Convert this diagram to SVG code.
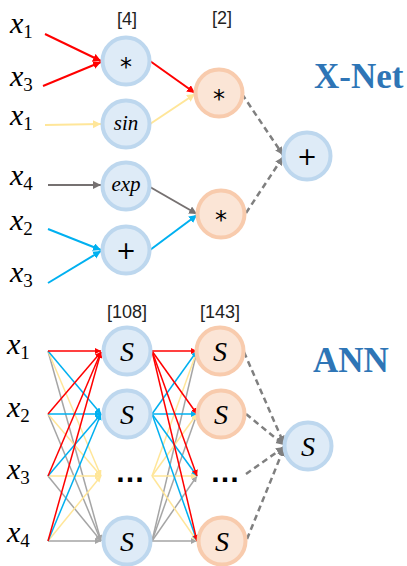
<svg xmlns="http://www.w3.org/2000/svg" width="407" height="566" viewBox="0 0 407 566">
<style>
.nb{fill:#DEEBF7;stroke:#BDD7EE;stroke-width:4}
.no{fill:#FBE5D6;stroke:#F8CBAD;stroke-width:4}
.var{font-family:"Liberation Serif",serif;font-style:italic;font-size:30px;fill:#000}
.sub{font-style:normal;font-size:19px}
.op{font-family:"DejaVu Sans","Liberation Sans",sans-serif;font-size:24px;fill:#000;text-anchor:middle}
.fn{font-family:"Liberation Serif",serif;font-style:italic;font-size:21px;fill:#000;text-anchor:middle}
.s{font-family:"Liberation Serif",serif;font-style:italic;font-size:28px;fill:#000;text-anchor:middle}
.br{font-family:"Liberation Sans",sans-serif;font-size:18px;fill:#222;text-anchor:middle}
.title{font-family:"Liberation Serif",serif;font-weight:bold;font-size:35px;fill:#2E75B6}
.dots{font-family:"Liberation Sans",sans-serif;font-weight:bold;font-size:30px;fill:#000;text-anchor:middle}
.t{fill:none;stroke-width:2}
.a{fill:none;stroke-width:1.5}
.d{fill:none;stroke:#7F7F7F;stroke-width:2.5;stroke-dasharray:6 4}
</style>
<defs>
<marker id="mr" markerUnits="userSpaceOnUse" markerWidth="9" markerHeight="9" refX="8" refY="4" orient="auto"><path d="M0,0 L8,4 L0,8 z" fill="#FF0000"/></marker>
<marker id="my" markerUnits="userSpaceOnUse" markerWidth="9" markerHeight="9" refX="8" refY="4" orient="auto"><path d="M0,0 L8,4 L0,8 z" fill="#FFE699"/></marker>
<marker id="mg" markerUnits="userSpaceOnUse" markerWidth="9" markerHeight="9" refX="8" refY="4" orient="auto"><path d="M0,0 L8,4 L0,8 z" fill="#767171"/></marker>
<marker id="mb" markerUnits="userSpaceOnUse" markerWidth="9" markerHeight="9" refX="8" refY="4" orient="auto"><path d="M0,0 L8,4 L0,8 z" fill="#00B0F0"/></marker>
<marker id="md" markerUnits="userSpaceOnUse" markerWidth="9" markerHeight="9" refX="8" refY="4" orient="auto"><path d="M0,0 L8,4 L0,8 z" fill="#7F7F7F"/></marker>
<marker id="sr" markerUnits="userSpaceOnUse" markerWidth="7" markerHeight="7" refX="6" refY="3" orient="auto"><path d="M0,0 L6,3 L0,6 z" fill="#FF0000"/></marker>
<marker id="sy" markerUnits="userSpaceOnUse" markerWidth="7" markerHeight="7" refX="6" refY="3" orient="auto"><path d="M0,0 L6,3 L0,6 z" fill="#FFE699"/></marker>
<marker id="sg" markerUnits="userSpaceOnUse" markerWidth="7" markerHeight="7" refX="6" refY="3" orient="auto"><path d="M0,0 L6,3 L0,6 z" fill="#A5A5A5"/></marker>
<marker id="sb" markerUnits="userSpaceOnUse" markerWidth="7" markerHeight="7" refX="6" refY="3" orient="auto"><path d="M0,0 L6,3 L0,6 z" fill="#00B0F0"/></marker>
</defs>

<g id="labels">
<text class="br" x="127" y="25">[4]</text>
<text class="br" x="222" y="24">[2]</text>
<text class="br" x="127" y="318">[108]</text>
<text class="br" x="220" y="318">[143]</text>
<text class="title" x="314" y="88">X-Net</text>
<text class="title" x="313" y="372">ANN</text>
</g>

<g id="inputs">
<text class="var" x="10" y="33">x<tspan class="sub" dy="5">1</tspan></text>
<text class="var" x="10" y="86">x<tspan class="sub" dy="5">3</tspan></text>
<text class="var" x="10" y="125">x<tspan class="sub" dy="5">1</tspan></text>
<text class="var" x="10" y="185">x<tspan class="sub" dy="5">4</tspan></text>
<text class="var" x="10" y="230">x<tspan class="sub" dy="5">2</tspan></text>
<text class="var" x="10" y="282">x<tspan class="sub" dy="5">3</tspan></text>
<text class="var" x="7" y="354">x<tspan class="sub" dy="5">1</tspan></text>
<text class="var" x="7" y="417">x<tspan class="sub" dy="5">2</tspan></text>
<text class="var" x="7" y="479">x<tspan class="sub" dy="5">3</tspan></text>
<text class="var" x="7" y="542">x<tspan class="sub" dy="5">4</tspan></text>
</g>

<g id="connectors">
<line class="t" stroke="#FF0000" x1="45" y1="34" x2="101" y2="61" marker-end="url(#mr)"/>
<line class="t" stroke="#FF0000" x1="43" y1="86" x2="101" y2="62" marker-end="url(#mr)"/>
<line class="t" stroke="#FFE699" x1="45" y1="125" x2="101" y2="124" marker-end="url(#my)"/>
<line class="t" stroke="#767171" x1="48" y1="185" x2="101" y2="185" marker-end="url(#mg)"/>
<line class="t" stroke="#00B0F0" x1="48" y1="229" x2="101" y2="250" marker-end="url(#mb)"/>
<line class="t" stroke="#00B0F0" x1="48" y1="283" x2="101" y2="251" marker-end="url(#mb)"/>
<line class="t" stroke="#FF0000" x1="150" y1="61" x2="195" y2="93" marker-end="url(#mr)"/>
<line class="t" stroke="#FFE699" x1="150" y1="124" x2="195" y2="94" marker-end="url(#my)"/>
<line class="t" stroke="#767171" x1="150" y1="187" x2="197" y2="214" marker-end="url(#mg)"/>
<line class="t" stroke="#00B0F0" x1="150" y1="250" x2="197" y2="215" marker-end="url(#mb)"/>
<line class="d" x1="242" y1="94" x2="283" y2="155" marker-end="url(#md)"/>
<line class="d" x1="246" y1="213" x2="283" y2="157" marker-end="url(#md)"/>

<g stroke="#A5A5A5" class="a">
<line x1="48" y1="351" x2="101" y2="541" marker-end="url(#sg)"/>
<line x1="48" y1="414" x2="101" y2="541" marker-end="url(#sg)"/>
<line x1="48" y1="476" x2="101" y2="541" marker-end="url(#sg)"/>
<line x1="48" y1="541" x2="101" y2="541" marker-end="url(#sg)"/>
</g>
<g stroke="#FFE699" class="a">
<line x1="48" y1="351" x2="101" y2="476" marker-end="url(#sy)"/>
<line x1="48" y1="414" x2="101" y2="476" marker-end="url(#sy)"/>
<line x1="48" y1="476" x2="101" y2="476" marker-end="url(#sy)"/>
<line x1="48" y1="541" x2="101" y2="476" marker-end="url(#sy)"/>
</g>
<g stroke="#00B0F0" class="a">
<line x1="48" y1="351" x2="101" y2="414" marker-end="url(#sb)"/>
<line x1="48" y1="414" x2="101" y2="414" marker-end="url(#sb)"/>
<line x1="48" y1="476" x2="101" y2="414" marker-end="url(#sb)"/>
<line x1="48" y1="541" x2="101" y2="414" marker-end="url(#sb)"/>
</g>
<g stroke="#FF0000" class="a">
<line x1="48" y1="351" x2="101" y2="351" marker-end="url(#sr)"/>
<line x1="48" y1="414" x2="101" y2="352" marker-end="url(#sr)"/>
<line x1="48" y1="476" x2="101" y2="352" marker-end="url(#sr)"/>
<line x1="48" y1="541" x2="101" y2="352" marker-end="url(#sr)"/>
</g>

<g stroke="#A5A5A5" class="a">
<line x1="152" y1="541" x2="197" y2="351" marker-end="url(#sg)"/>
<line x1="152" y1="541" x2="197" y2="414" marker-end="url(#sg)"/>
<line x1="152" y1="541" x2="197" y2="476" marker-end="url(#sg)"/>
<line x1="152" y1="541" x2="197" y2="541" marker-end="url(#sg)"/>
</g>
<g stroke="#FFE699" class="a">
<line x1="152" y1="476" x2="197" y2="351" marker-end="url(#sy)"/>
<line x1="152" y1="476" x2="197" y2="414" marker-end="url(#sy)"/>
<line x1="152" y1="476" x2="197" y2="476" marker-end="url(#sy)"/>
<line x1="152" y1="476" x2="197" y2="541" marker-end="url(#sy)"/>
</g>
<g stroke="#00B0F0" class="a">
<line x1="152" y1="414" x2="197" y2="351" marker-end="url(#sb)"/>
<line x1="152" y1="414" x2="197" y2="414" marker-end="url(#sb)"/>
<line x1="152" y1="414" x2="197" y2="476" marker-end="url(#sb)"/>
<line x1="152" y1="414" x2="197" y2="541" marker-end="url(#sb)"/>
</g>
<g stroke="#FF0000" class="a">
<line x1="152" y1="351" x2="197" y2="351" marker-end="url(#sr)"/>
<line x1="152" y1="351" x2="197" y2="414" marker-end="url(#sr)"/>
<line x1="152" y1="351" x2="197" y2="476" marker-end="url(#sr)"/>
<line x1="152" y1="351" x2="197" y2="541" marker-end="url(#sr)"/>
</g>

<line class="d" x1="244" y1="352" x2="284" y2="444" marker-end="url(#md)"/>
<line class="d" x1="246" y1="414" x2="284" y2="445" marker-end="url(#md)"/>
<line class="d" x1="246" y1="474" x2="284" y2="447" marker-end="url(#md)"/>
<line class="d" x1="247" y1="539" x2="284" y2="448" marker-end="url(#md)"/>
</g>

<g id="n_mul1"><circle class="nb" cx="126" cy="61" r="23.5"/><text class="op" x="126" y="75">*</text></g>
<g id="n_sin"><circle class="nb" cx="126" cy="124" r="23.5"/><text class="fn" x="126" y="130">sin</text></g>
<g id="n_exp"><circle class="nb" cx="126" cy="186" r="23.5"/><text class="fn" x="126" y="191">exp</text></g>
<g id="n_add1"><circle class="nb" cx="126" cy="250" r="23.5"/><text class="op" x="126" y="259">+</text></g>
<g id="n_mul2"><circle class="no" cx="219" cy="93" r="23.5"/><text class="op" x="219" y="107">*</text></g>
<g id="n_mul3"><circle class="no" cx="221" cy="214" r="23.5"/><text class="op" x="221" y="228">*</text></g>
<g id="n_add2"><circle class="nb" cx="307" cy="156" r="23.5"/><text class="op" x="307" y="165">+</text></g>

<g id="a_h1_1"><circle class="nb" cx="127" cy="351" r="23.5"/><text class="s" x="127" y="361">S</text></g>
<g id="a_h1_2"><circle class="nb" cx="127" cy="414" r="23.5"/><text class="s" x="127" y="424">S</text></g>
<g id="a_h1_dots"><text class="dots" x="130" y="482">…</text></g>
<g id="a_h1_4"><circle class="nb" cx="127" cy="541" r="23.5"/><text class="s" x="127" y="551">S</text></g>
<g id="a_h2_1"><circle class="no" cx="220" cy="351" r="23.5"/><text class="s" x="220" y="361">S</text></g>
<g id="a_h2_2"><circle class="no" cx="221" cy="414" r="23.5"/><text class="s" x="221" y="424">S</text></g>
<g id="a_h2_dots"><text class="dots" x="225" y="482">…</text></g>
<g id="a_h2_4"><circle class="no" cx="222" cy="541" r="23.5"/><text class="s" x="222" y="551">S</text></g>
<g id="a_out"><circle class="nb" cx="308" cy="446" r="23.5"/><text class="s" x="308" y="456">S</text></g>
</svg>
